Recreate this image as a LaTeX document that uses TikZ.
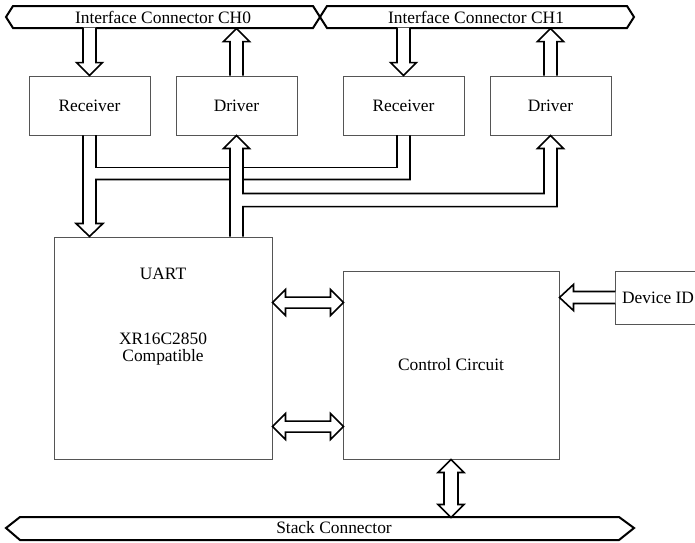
\documentclass[tikz,border=0pt]{standalone}
\usepackage{fontspec}
\setmainfont{Liberation Serif}
\usepackage{xcolor}
\definecolor{cadre}{HTML}{555555}
\usepackage{tikz}
\usetikzlibrary{calc}

\tikzset{
  bloc/.style={draw=cadre,line width=0.9pt,inner sep=0pt},
  petitbloc/.style={bloc,minimum width=121pt,minimum height=59pt},
  creux/.style={draw=black,line width=1.6pt,fill=white,line join=miter},
  bus/.style={draw=black,line width=2pt,fill=white,line join=miter},
  % fleches creuses, posees au depart (versbas/vershaut) ou a la pointe
  pics/versbas/.style={code={
    \filldraw[creux] (-6.5,0) -- (-6.5,#1-13) -- (-13,#1-13) -- (0,#1)
      -- (13,#1-13) -- (6.5,#1-13) -- (6.5,0);}},
  pics/vershaut/.style={code={
    \filldraw[creux] (-6.5,0) -- (-6.5,-#1+13) -- (-13,-#1+13) -- (0,-#1)
      -- (13,-#1+13) -- (6.5,-#1+13) -- (6.5,0);}},
  pics/versgauche/.style={code={
    \filldraw[creux] (#1,-6) -- (14,-6) -- (14,-13) -- (0,0)
      -- (14,13) -- (14,6) -- (#1,6);}},
  pics/doubleh/.style={code={
    \filldraw[creux] (0,0) -- (13,-13) -- (13,-5.5) -- (#1-13,-5.5) -- (#1-13,-13)
      -- (#1,0) -- (#1-13,13) -- (#1-13,5.5) -- (13,5.5) -- (13,13) -- cycle;}},
  pics/doublev/.style={code={
    \filldraw[creux] (0,0) -- (13,13) -- (7,13) -- (7,#1-13) -- (13,#1-13)
      -- (0,#1) -- (-13,#1-13) -- (-7,#1-13) -- (-7,13) -- (-13,13) -- cycle;}},
}

\begin{document}
\begin{tikzpicture}[x=1pt,y=-1pt,font=\fontsize{17.4}{17}\selectfont]
\useasboundingbox (0,0) rectangle (695,542);
% connecteurs d'interface et connecteur de pile
\filldraw[bus] (6,17) -- (13,6) -- (313,6) -- (320,17) -- (313,28) -- (13,28) -- cycle;
\filldraw[bus] (320,17) -- (327,6) -- (627,6) -- (634,17) -- (627,28) -- (327,28) -- cycle;
\filldraw[bus] (6,528) -- (20,517) -- (619,517) -- (634,528) -- (619,540) -- (20,540) -- cycle;
\node (ch0) at (163,17) {Interface Connector CH0};
\node (ch1) at (476,17) {Interface Connector CH1};
\node (stack) at (334,528) {Stack Connector};
% recepteurs et drivers des deux canaux
\node[petitbloc] (rx0) at (89.5,105.5) {Receiver};
\node[petitbloc] (dr0) at (236.5,105.5) {Driver};
\node[petitbloc] (rx1) at (403.5,105.5) {Receiver};
\node[petitbloc] (dr1) at (550.5,105.5) {Driver};
% UART, circuit de controle, identifiant
\node[bloc,minimum width=218pt,minimum height=222pt] (uart) at (163,348) {};
\node (uartnom) at (163,273.5) {UART};
\node[align=center] (uartref) at (163,349) {XR16C2850\\Compatible};
\node[bloc,minimum width=216pt,minimum height=188pt] (ctrl) at (451,365) {Control Circuit};
\node[bloc,minimum width=86pt,minimum height=53pt] (devid) at (658,297.5) {Device ID};
% liaisons connecteurs <-> recepteurs / drivers
\pic at ($(rx0.north)+(0,-48)$) {versbas=48};
\pic at ($(rx1.north)+(0,-48)$) {versbas=48};
\pic at (dr0.north) {vershaut=47};
\pic at (dr1.north) {vershaut=47};
% sorties des recepteurs vers l'UART
\draw[creux,fill=none] ($(rx0.south)+(-6.5,0)$) -- ++(0,88) -- ++(-7,0) -- ++(13.5,13)
  -- ++(13.5,-13) -- ++(-7,0) -- ++(0,-44) -| ($(rx1.south)+(6.5,0)$);
\draw[creux,fill=none] ($(rx0.south)+(6.5,0)$) -- ++(0,32) -| ($(rx1.south)+(-6.5,0)$);
% entrees des drivers depuis l'UART
\filldraw[creux] ($(dr0.center |- uart.north)+(-6.5,0)$) -- ($(dr0.south)+(-6.5,13)$)
  -- ++(-6.5,0) -- (dr0.south) -- ++(13,13) -- ++(-6.5,0) -- ++(0,45)
  -| ($(dr1.south)+(-6.5,13)$) -- ++(-6.5,0) -- (dr1.south) -- ++(13,13) -- ++(-6.5,0)
  |- ($(dr0.center |- uart.north)+(6.5,-30)$) -- ++(0,30);
% UART <-> controle, controle <-> pile, identifiant -> controle
\pic at ($(uart.north east)+(0,66)$) {doubleh=71};
\pic at ($(uart.north east)+(0,190)$) {doubleh=71};
\pic at (ctrl.south) {doublev=58};
\pic at (ctrl.east |- devid.west) {versgauche=56};
\end{tikzpicture}
\end{document}
